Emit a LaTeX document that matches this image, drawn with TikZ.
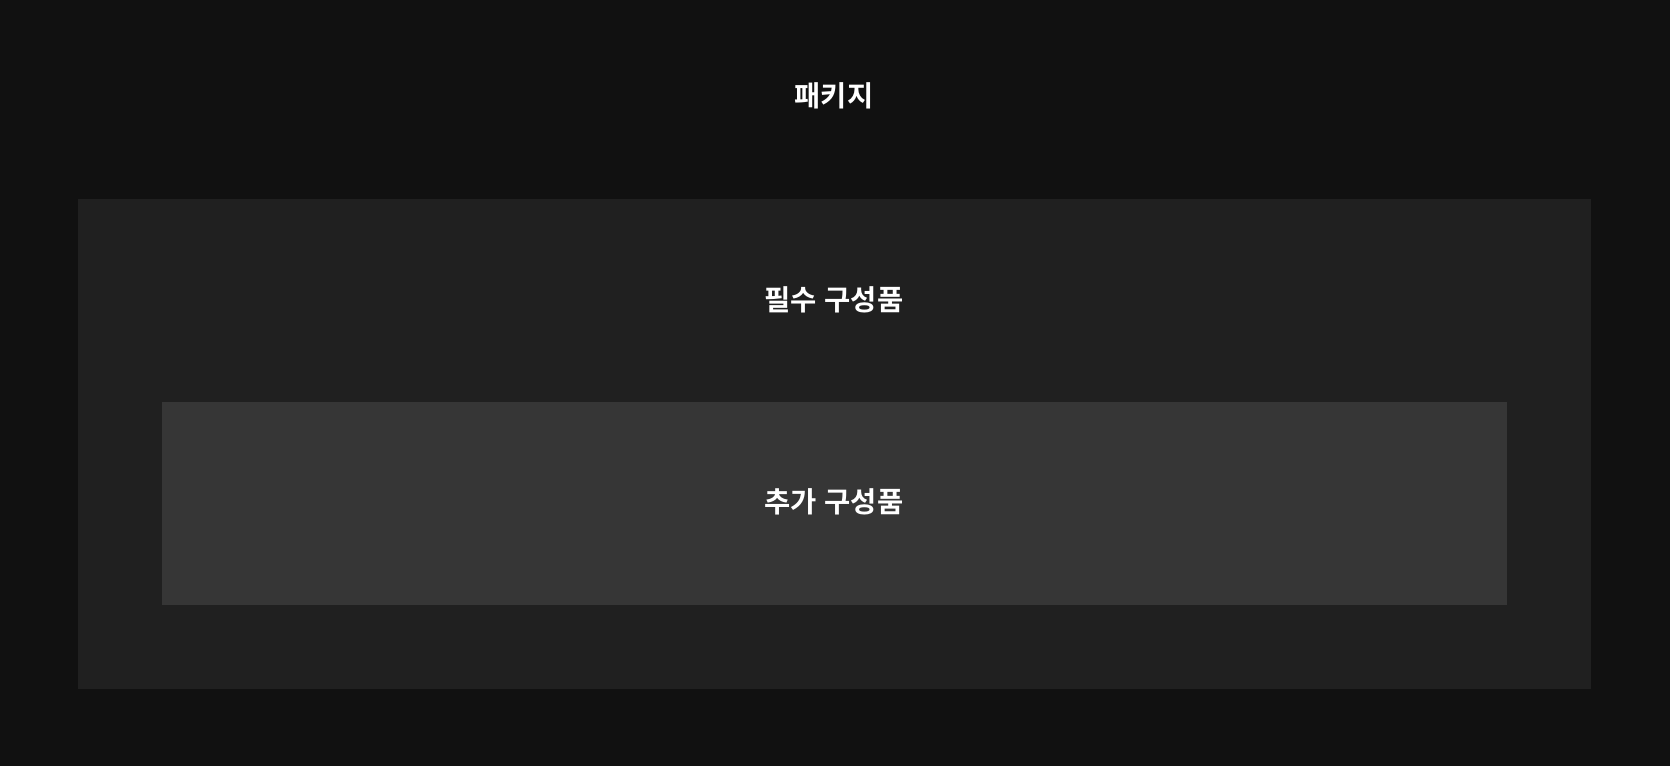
\documentclass[tikz,border=0pt]{standalone}
\usepackage{fontspec}
\newfontfamily\krfont{Noto Sans CJK KR}[BoldFont={* Bold}]
\definecolor{bgc}{HTML}{111111}
\definecolor{outerc}{HTML}{202020}
\definecolor{innerc}{HTML}{363636}
\tikzset{
  lbl/.style={text=white, font=\krfont\bfseries\fontsize{28.5pt}{32pt}\selectfont, inner sep=0pt},
  panel/.style={inner sep=0pt, draw=none}
}
\begin{document}
\begin{tikzpicture}[x=1pt,y=1pt]
\fill[bgc] (0,0) rectangle (1670,766);
\useasboundingbox (0,0) rectangle (1670,766);
\fill[outerc] (78,77) coordinate (o1) rectangle (1591,567) coordinate (o2);
\fill[innerc] (162,161) coordinate (i1) rectangle (1507,364) coordinate (i2);
\node[lbl] (pkg) at (834,670) {패키지};
\node[lbl] (req) at (834,466.5) {필수\hspace{0.04em} 구성품};
\node[lbl] (add) at (834,264) {추가\hspace{0.04em} 구성품};
\end{tikzpicture}
\end{document}
